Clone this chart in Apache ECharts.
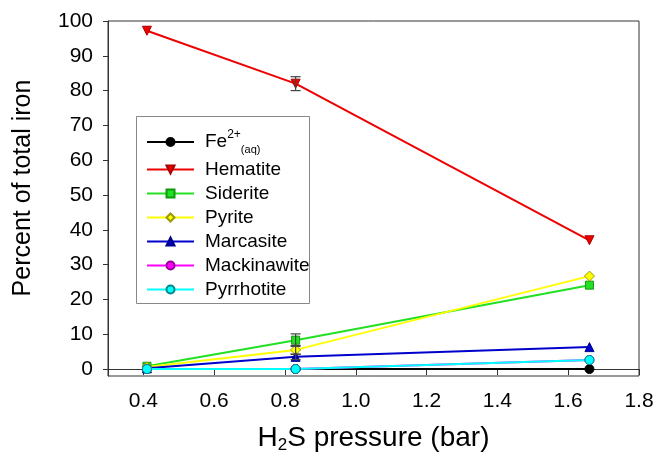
<!DOCTYPE html>
<html><head><meta charset="utf-8">
<script src="https://cdn.jsdelivr.net/npm/echarts@6/dist/echarts.min.js"></script>
<style>html,body{margin:0;background:#fff}#c{width:657px;height:464px}</style>
</head><body><div id="c"></div>
<script>
const pressures = [0.41, 0.83, 1.66];
const seriesNames = ['Fe', 'Hematite', 'Siderite', 'Pyrite', 'Marcasite', 'Mackinawite', 'Pyrrhotite'];
const fe = [0, 0, 0];
const hematite = [97.2, 82.0, 37.0];
const siderite = [0.8, 8.3, 24.1];
const pyrite = [0.6, 5.5, 26.7];
const marcasite = [0.2, 3.5, 6.3];
const mackinawite = [0, 0, 2.6];
const pyrrhotite = [0, 0, 2.6];
const errX = [0.83, 0.83, 0.83, 0.83];
const errMid = [82.0, 8.3, 5.5, 3.5];
const errHalf = [2.0, 1.8, 1.3, 0.8];
const xTicks = [0.4, 0.6, 0.8, 1.0, 1.2, 1.4, 1.6, 1.8];
const yTicks = [0, 10, 20, 30, 40, 50, 60, 70, 80, 90, 100];

const FONT = 'Liberation Sans, Arial, sans-serif';
const chart = echarts.init(document.getElementById('c'), null, {renderer: 'canvas'});

const styles = {
  Fe: {color: '#000000', border: '#000000', symbol: 'circle', rot: 0},
  Hematite: {color: '#ee0000', border: '#aa0000', symbol: 'triangle', rot: 180},
  Siderite: {color: '#22e022', border: '#119911', symbol: 'rect', rot: 0},
  Pyrite: {color: '#ffff00', border: '#999900', symbol: 'diamond', rot: 0},
  Marcasite: {color: '#0000cc', border: '#000088', symbol: 'triangle', rot: 0},
  Mackinawite: {color: '#ff00ff', border: '#990099', symbol: 'circle', rot: 0},
  Pyrrhotite: {color: '#00ffff', border: '#008888', symbol: 'circle', rot: 0}
};
const values = {Fe: fe, Hematite: hematite, Siderite: siderite, Pyrite: pyrite, Marcasite: marcasite, Mackinawite: mackinawite, Pyrrhotite: pyrrhotite};

const lineSeries = seriesNames.map(n => ({
  name: n, type: 'line',
  data: pressures.map((x, i) => [x, values[n][i]]),
  symbol: styles[n].symbol, symbolRotate: styles[n].rot,
  symbolSize: n === 'Siderite' ? 8 : (n === 'Pyrite' ? 10 : 9),
  lineStyle: {color: styles[n].color, width: 2},
  itemStyle: {color: styles[n].color, borderColor: styles[n].border, borderWidth: 1},
  emphasis: {disabled: true},
  animation: false
}));

const errSeries = {
  type: 'custom', name: 'err',
  data: errX.map((x, i) => [x, errMid[i] - errHalf[i], errMid[i] + errHalf[i]]),
  renderItem: function (params, api) {
    const x = api.value(0), lo = api.value(1), hi = api.value(2);
    const p1 = api.coord([x, hi]), p2 = api.coord([x, lo]);
    const w = 5;
    const st = {stroke: '#444', lineWidth: 1.2};
    return {type: 'group', children: [
      {type: 'line', shape: {x1: p1[0], y1: p1[1], x2: p2[0], y2: p2[1]}, style: st},
      {type: 'line', shape: {x1: p1[0] - w, y1: p1[1], x2: p1[0] + w, y2: p1[1]}, style: st},
      {type: 'line', shape: {x1: p2[0] - w, y1: p2[1], x2: p2[0] + w, y2: p2[1]}, style: st}
    ]};
  },
  z: 5, animation: false
};

chart.setOption({
  backgroundColor: '#fff',
  animation: false,
  grid: {left: 108, right: 18, top: 21, bottom: 88, show: true, borderColor: '#333', borderWidth: 1, backgroundColor: 'transparent'},
  xAxis: {
    type: 'value', min: 0.3, max: 1.8,
    axisLine: {show: true, lineStyle: {color: '#333', width: 1}},
    axisTick: {show: true, customValues: xTicks, length: 6, lineStyle: {color: '#333'}},
    axisLabel: {customValues: xTicks, formatter: v => v.toFixed(1), fontFamily: FONT, fontSize: 21, color: '#000', margin: 15},
    splitLine: {show: false},
    name: '{a|H}{s|2}{a|S pressure (bar)}', nameLocation: 'middle', nameGap: 46,
    nameTextStyle: {fontFamily: FONT, color: '#000', rich: {
      a: {fontFamily: FONT, fontSize: 28, color: '#000', lineHeight: 32},
      s: {fontFamily: FONT, fontSize: 17, color: '#000', verticalAlign: 'bottom', lineHeight: 32}
    }}
  },
  yAxis: {
    type: 'value', min: -2, max: 100,
    axisLine: {show: true, lineStyle: {color: '#333', width: 1}},
    axisTick: {show: true, customValues: yTicks, length: 5, lineStyle: {color: '#333'}},
    axisLabel: {customValues: yTicks, fontFamily: FONT, fontSize: 21, color: '#000', margin: 15},
    splitLine: {show: false},
    name: 'Percent of total iron', nameLocation: 'middle', nameGap: 72,
    nameTextStyle: {fontFamily: FONT, fontSize: 25, color: '#000', padding: [0, 0, 0, 21]}
  },
  legend: {
    data: seriesNames, orient: 'vertical', left: 141, top: 124,
    itemWidth: 47, itemHeight: 10, itemGap: 5,
    selectedMode: false,
    formatter: n => n === 'Fe' ? '{m|Fe}{sup|2+}{sub|(aq)}' : n,
    textStyle: {fontFamily: FONT, fontSize: 19, color: '#000', lineHeight: 18, padding: [0, 0, 0, 6],
      rich: {
        m: {fontFamily: FONT, fontSize: 19, color: '#000', lineHeight: 26, verticalAlign: 'middle'},
        sup: {fontFamily: FONT, fontSize: 12, color: '#000', verticalAlign: 'top', lineHeight: 14},
        sub: {fontFamily: FONT, fontSize: 11, color: '#000', verticalAlign: 'bottom', lineHeight: 12}
      }}
  },
  graphic: [{
    type: 'rect', left: 136, top: 116, shape: {width: 173, height: 187},
    style: {fill: 'rgba(0,0,0,0)', stroke: '#888', lineWidth: 1}, z: 1, silent: true
  }],
  series: lineSeries.concat([errSeries])
});
</script>
</body></html>
